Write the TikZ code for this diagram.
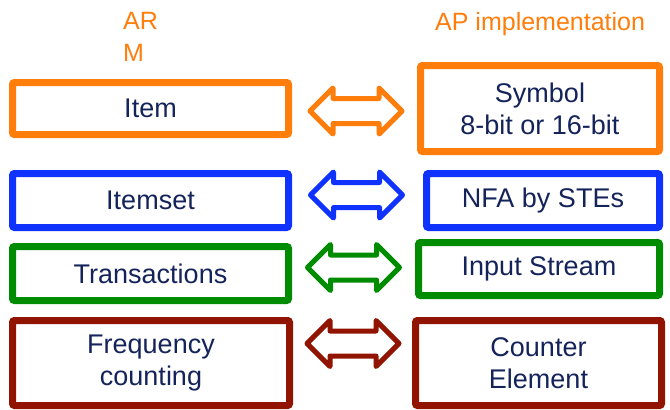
\documentclass[tikz,border=0pt]{standalone}
\usepackage{fontspec}
\setmainfont{Liberation Sans}
\usepackage{tikz}
\usetikzlibrary{shapes.arrows,shadows,positioning}

\definecolor{armorange}{RGB}{255,125,10}
\definecolor{armblue}{RGB}{15,50,255}
\definecolor{armgreen}{RGB}{0,140,0}
\definecolor{armred}{RGB}{145,20,0}
\definecolor{boxtext}{RGB}{20,35,90}

\begin{document}
\begin{tikzpicture}[
    x=1pt, y=1pt,
    pairbox/.style={rectangle, rounded corners=2pt, draw=#1, line width=7pt, fill=white,
        inner sep=0pt, align=center, text=boxtext, font=\fontsize{27}{32}\selectfont},
    headline/.style={text=armorange, align=left, inner sep=0pt,
        font=\fontsize{25}{32}\selectfont},
    twoway/.style={double arrow, draw=#1, line width=5pt, fill=white, line join=round,
        minimum height=92pt, double arrow head extend=10.5pt,
        inner xsep=0pt, inner ysep=10pt}
]
    \useasboundingbox (0,0) rectangle (670,-410);

    \node (armhead) [headline, anchor=north west] at (123,-12) {AR\\M};
    \node (aphead) [headline, anchor=base west] at (435,-30) {AP implementation};

    % ARM side
    \node (item) [pairbox=armorange, minimum width=276pt, minimum height=52pt] at (150.5,-108.5) {Item};
    \node (itemset) [pairbox=armblue, minimum width=276pt, minimum height=54pt] at (150.5,-200.5) {Itemset};
    \node (trans) [pairbox=armgreen, minimum width=276pt, minimum height=54pt] at (150.5,-273.5) {Transactions};
    \node (freq) [pairbox=armred, minimum width=277pt, minimum height=85pt] at (151,-363) {Frequency\\counting};

    % AP side
    \node (symbol) [pairbox=armorange, minimum width=239pt, minimum height=86pt] at (540,-108.5) {Symbol\\8-bit or 16-bit};
    \node (nfa) [pairbox=armblue, minimum width=233pt, minimum height=54pt] at (543,-200.5) {NFA by STEs};
    \node (input) [pairbox=armgreen, minimum width=241pt, minimum height=53pt] at (539,-269) {Input Stream};
    \node (counter) [pairbox=armred, minimum width=246pt, minimum height=85pt] at (538.5,-363) {Counter\\Element};

    % correspondences
    \node (mapitem) [twoway=armorange, drop shadow={opacity=0.25, shadow xshift=2pt, shadow yshift=-2pt}] at (356,-111) {};
    \node (mapset) [twoway=armblue, drop shadow={opacity=0.25, shadow xshift=2pt, shadow yshift=-2pt}] at (356.5,-195) {};
    \node (maptrans) [twoway=armgreen] at (353.5,-267.5) {};
    \node (mapfreq) [twoway=armred] at (353,-343.5) {};
\end{tikzpicture}
\end{document}
